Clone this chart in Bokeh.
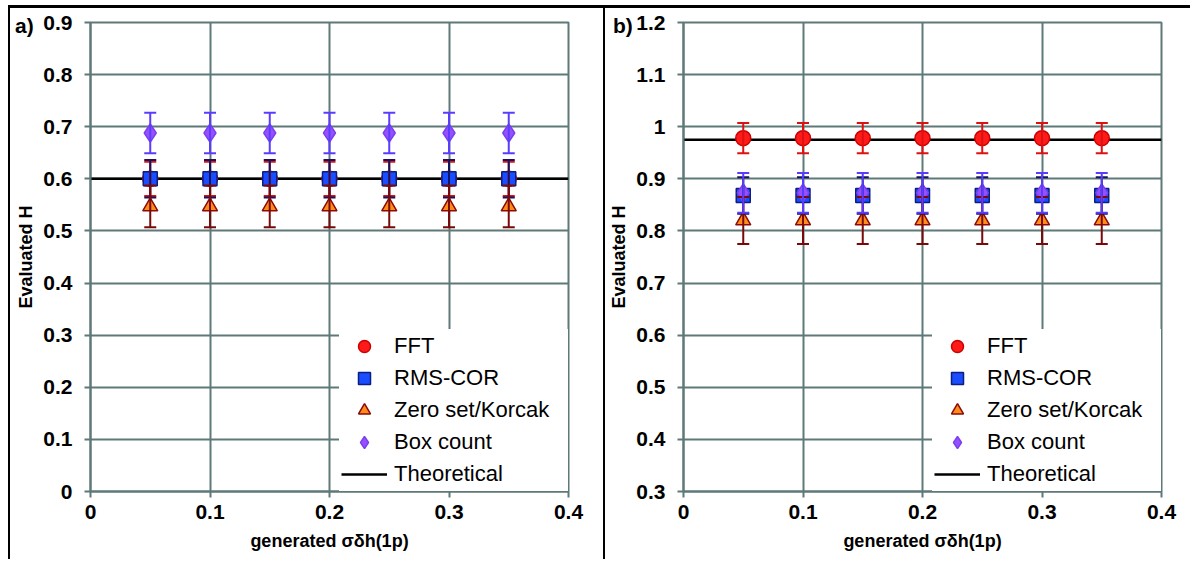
from bokeh.plotting import figure
from bokeh.layouts import row
from bokeh.models import (ColumnDataSource, Whisker, TeeHead, Legend, LegendItem, Div)
from bokeh.embed import file_html
from bokeh.resources import INLINE

# ---------------- data ----------------
x_sigma = [0.05, 0.1, 0.15, 0.2, 0.25, 0.3, 0.35]
x_theo = [0.0, 0.4]

# panel a
fft_a = [0.600, 0.600, 0.600, 0.600, 0.600, 0.600, 0.600]
fft_a_err = [0.033, 0.033, 0.033, 0.033, 0.033, 0.033, 0.033]
rms_a = [0.600, 0.600, 0.600, 0.600, 0.600, 0.600, 0.600]
rms_a_err = [0.036, 0.036, 0.036, 0.036, 0.036, 0.036, 0.036]
zero_a = [0.547, 0.547, 0.547, 0.547, 0.547, 0.547, 0.547]
zero_a_err = [0.040, 0.040, 0.040, 0.040, 0.040, 0.040, 0.040]
box_a = [0.688, 0.688, 0.688, 0.688, 0.688, 0.688, 0.688]
box_a_err = [0.039, 0.039, 0.039, 0.039, 0.039, 0.039, 0.039]
theo_a = [0.6, 0.6]

# panel b
fft_b = [0.978, 0.978, 0.978, 0.978, 0.978, 0.978, 0.978]
fft_b_err = [0.029, 0.029, 0.029, 0.029, 0.029, 0.029, 0.029]
rms_b = [0.868, 0.868, 0.868, 0.868, 0.868, 0.868, 0.868]
rms_b_err = [0.035, 0.035, 0.035, 0.035, 0.035, 0.035, 0.035]
zero_b = [0.820, 0.820, 0.820, 0.820, 0.820, 0.820, 0.820]
zero_b_err = [0.045, 0.045, 0.045, 0.045, 0.045, 0.045, 0.045]
box_b = [0.873, 0.873, 0.873, 0.873, 0.873, 0.873, 0.873]
box_b_err = [0.038, 0.038, 0.038, 0.038, 0.038, 0.038, 0.038]
theo_b = [0.975, 0.975]

x_ticks = [0, 0.1, 0.2, 0.3, 0.4]
y_ticks_a = [0, 0.1, 0.2, 0.3, 0.4, 0.5, 0.6, 0.7, 0.8, 0.9]
y_ticks_b = [0.3, 0.4, 0.5, 0.6, 0.7, 0.8, 0.9, 1.0, 1.1, 1.2]

series_names = ["FFT", "RMS-COR", "Zero set/Korcak", "Box count", "Theoretical"]
panel_tags = ["a)", "b)"]

GRID = "#5f7878"
FONT = "Liberation Sans"
CANVAS_H = 554

STYLES = dict(
    fft=dict(marker="circle", size=15, fill="#ff1a1a", line="#cc0000", err="#dd1111"),
    rms=dict(marker="square", size=14, fill="#1a4dff", line="#0a1f80", err="#14145e"),
    zero=dict(marker="triangle", size=15, fill="#ff8c1a", line="#8b0a0a", err="#7a0a0a"),
    box=dict(marker="diamond", size=18, fill="#9650ff", line="#7a40f0", err="#5a3cff"),
)


def make_panel(width, y_range, y_ticks, overrides, data, theo, min_left, min_right, extra_styles):
    p = figure(width=width, height=CANVAS_H, x_range=(0, 0.4), y_range=y_range,
               output_backend="svg", toolbar_location=None,
               min_border_left=min_left, min_border_right=min_right,
               min_border_top=14, min_border_bottom=71)
    p.background_fill_color = "white"
    p.border_fill_color = "white"
    p.outline_line_color = GRID
    p.outline_line_width = 2

    for ax in (p.xaxis[0], p.yaxis[0]):
        ax.axis_line_color = GRID
        ax.axis_line_width = 2
        ax.major_tick_line_color = GRID
        ax.major_tick_line_width = 2
        ax.major_tick_out = 6
        ax.major_tick_in = 0
        ax.minor_tick_line_color = None
        ax.major_label_text_font = FONT
        ax.major_label_text_font_style = "bold"
        ax.major_label_text_font_size = "21px"
        ax.major_label_text_color = "black"
        ax.axis_label_text_font = FONT
        ax.axis_label_text_font_style = "bold"
        ax.axis_label_text_font_size = "18px"
        ax.axis_label_text_color = "black"

    p.xaxis.ticker = x_ticks
    p.yaxis.ticker = y_ticks
    p.xaxis.major_label_overrides = {0: "0"}
    p.yaxis.major_label_overrides = overrides
    p.xaxis.major_label_standoff = 7
    p.yaxis.major_label_standoff = 12
    p.xaxis.axis_label = "generated σδh(1p)"
    p.yaxis.axis_label = "Evaluated H"
    p.xaxis.axis_label_standoff = 9
    p.yaxis.axis_label_standoff = 4

    p.xgrid.grid_line_color = GRID
    p.ygrid.grid_line_color = GRID
    p.xgrid.grid_line_width = 2
    p.ygrid.grid_line_width = 2
    p.xgrid.ticker = x_ticks
    p.ygrid.ticker = y_ticks

    theo_r = p.line(x_theo, theo, line_color="black", line_width=2.5)

    renderers = {}
    for key in ["fft", "rms", "zero", "box"]:
        vals, errs = data[key]
        st = STYLES[key]
        src = ColumnDataSource(dict(
            x=x_sigma, y=vals,
            upper=[v + e for v, e in zip(vals, errs)],
            lower=[v - e for v, e in zip(vals, errs)]))
        w = Whisker(source=src, base="x", upper="upper", lower="lower",
                    line_color=st["err"], line_width=2, level="glyph",
                    upper_head=TeeHead(size=12, line_color=st["err"], line_width=2),
                    lower_head=TeeHead(size=12, line_color=st["err"], line_width=2))
        p.add_layout(w)
        r = p.scatter("x", "y", source=src, marker=st["marker"], size=st["size"],
                      fill_color=st["fill"], line_color=st["line"], line_width=1.5)
        renderers[key] = r

    items = [LegendItem(label=series_names[0], renderers=[renderers["fft"]]),
             LegendItem(label=series_names[1], renderers=[renderers["rms"]]),
             LegendItem(label=series_names[2], renderers=[renderers["zero"]]),
             LegendItem(label=series_names[3], renderers=[renderers["box"]]),
             LegendItem(label=series_names[4], renderers=[theo_r])]
    leg = Legend(items=items, location="bottom_right",
                 label_text_font=FONT, label_text_font_size="22px",
                 label_text_color="black",
                 background_fill_color="white", background_fill_alpha=1.0,
                 border_line_alpha=0, margin=0, padding=2, spacing=2,
                 glyph_height=30, label_height=30, glyph_width=46,
                 label_width=172, label_standoff=7)
    p.add_layout(leg)
    p.styles = extra_styles
    return p


p1 = make_panel(595, (0, 0.9), y_ticks_a, {0: "0"},
                dict(fft=(fft_a, fft_a_err), rms=(rms_a, rms_a_err),
                     zero=(zero_a, zero_a_err), box=(box_a, box_a_err)),
                theo_a, 80, 37,
                {"margin-left": "8px", "margin-top": "5px",
                 "border-top": "3px solid black", "border-left": "2px solid black"})
p2 = make_panel(587, (0.3, 1.2), y_ticks_b, {1: "1"},
                dict(fft=(fft_b, fft_b_err), rms=(rms_b, rms_b_err),
                     zero=(zero_b, zero_b_err), box=(box_b, box_b_err)),
                theo_b, 78, 31,
                {"margin-top": "5px",
                 "border-top": "3px solid black", "border-left": "2px solid black"})


def tag_div(text, left):
    return Div(text=text, width=28, height=24,
               styles={"position": "absolute", "left": f"{left}px", "top": "9px",
                       "font-family": "'Liberation Sans', Arial, sans-serif",
                       "font-weight": "bold", "font-size": "21px",
                       "line-height": "24px", "color": "black", "z-index": "10"})


div_a = tag_div(panel_tags[0], 10)
div_b = tag_div(panel_tags[1], 608)

layout = row(p1, p2, div_a, div_b)

open("out.html", "w").write(file_html(layout, INLINE))
